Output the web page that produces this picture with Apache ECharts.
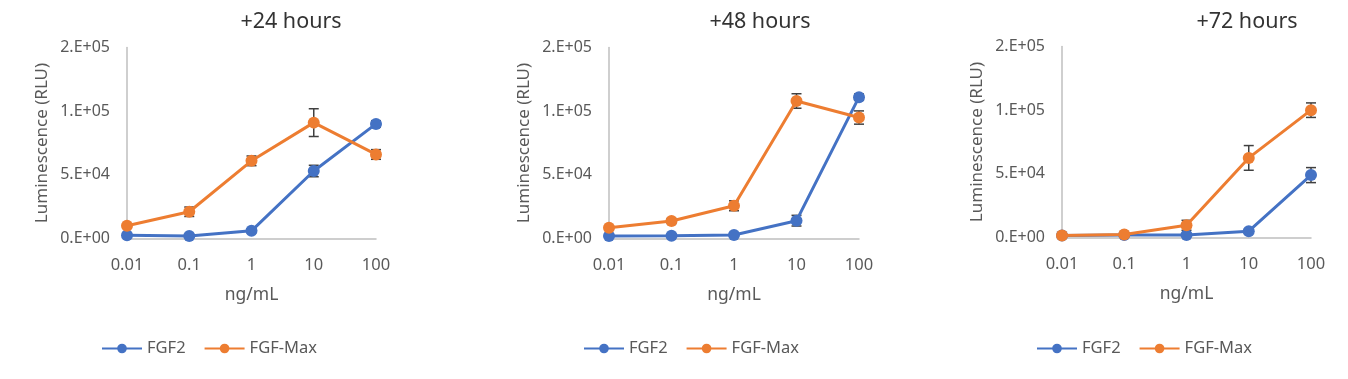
<!DOCTYPE html>
<html>
<head>
<meta charset="utf-8">
<script src="https://cdn.jsdelivr.net/npm/echarts@6/dist/echarts.min.js"></script>
<style>html,body{margin:0;padding:0;background:#fff;}#c{width:1348px;height:379px;}</style>
</head>
<body>
<div id="c"></div>
<script>
var categories = ['0.01', '0.1', '1', '10', '100'];
var panelTitles = ['+24 hours', '+48 hours', '+72 hours'];
var seriesNames = ['FGF2', 'FGF-Max'];
var yTicks = [0, 50000, 100000, 150000];

var fgf2_24 = [2500, 2000, 6000, 53000, 90000];
var fgf2_24_err = [1000, 1000, 1500, 4500, 2500];
var fgfmax_24 = [10000, 21000, 61000, 91000, 66000];
var fgfmax_24_err = [1500, 3700, 3800, 10900, 3800];

var fgf2_48 = [1900, 2100, 2700, 14000, 111000];
var fgf2_48_err = [500, 500, 800, 4200, 2500];
var fgfmax_48 = [8400, 13700, 25700, 108000, 95000];
var fgfmax_48_err = [1500, 2000, 3900, 5700, 5200];

var fgf2_72 = [1600, 2000, 2000, 5000, 49000];
var fgf2_72_err = [500, 500, 500, 1500, 5900];
var fgfmax_72 = [1600, 2400, 9600, 62500, 100000];
var fgfmax_72_err = [500, 800, 3900, 9700, 5700];

var FONT = '"Noto Sans", sans-serif';
var BLUE = '#4472C4', ORANGE = '#ED7D31';
var TXT = '#595959', AXIS = '#BFBFBF', ERR = '#404040';

function excelSci(v) {
  if (v === 0) return '0.E+00';
  var e = Math.floor(Math.log10(v));
  var m = Math.round(v / Math.pow(10, e));
  if (m >= 10) { m = 1; e++; }
  return m + '.E+' + (e < 10 ? '0' : '') + e;
}

var grids = [
  {left: 127, top: 47.5, width: 249, height: 191},
  {left: 609, top: 47.5, width: 250, height: 191},
  {left: 1062, top: 46.5, width: 249, height: 191}
];
var titleCenters = [286, 755, 1242];
var legendLefts = [96, 578, 1031];
var data = [
  [[fgf2_24, fgf2_24_err], [fgfmax_24, fgfmax_24_err]],
  [[fgf2_48, fgf2_48_err], [fgfmax_48, fgfmax_48_err]],
  [[fgf2_72, fgf2_72_err], [fgfmax_72, fgfmax_72_err]]
];

var option = {
  animation: false,
  textStyle: {fontFamily: FONT},
  title: [], grid: [], xAxis: [], yAxis: [], legend: [], series: []
};

function errRender(params, api) {
  var x = api.value(0), y = api.value(1), e = api.value(2);
  var top = api.coord([x, y + e]);
  var bot = api.coord([x, y - e]);
  var hw = 5;
  return {
    type: 'group',
    children: [
      {type: 'line', shape: {x1: top[0], y1: top[1], x2: bot[0], y2: bot[1]}, style: {stroke: ERR, lineWidth: 1.5}},
      {type: 'line', shape: {x1: top[0] - hw, y1: top[1], x2: top[0] + hw, y2: top[1]}, style: {stroke: ERR, lineWidth: 1.5}},
      {type: 'line', shape: {x1: bot[0] - hw, y1: bot[1], x2: bot[0] + hw, y2: bot[1]}, style: {stroke: ERR, lineWidth: 1.5}}
    ]
  };
}

for (var p = 0; p < 3; p++) {
  option.title.push({
    text: panelTitles[p], left: titleCenters[p], top: 6, textAlign: 'center',
    textStyle: {fontFamily: FONT, fontSize: 21.5, fontWeight: 'normal', color: '#333333'}
  });
  option.grid.push(grids[p]);
  option.xAxis.push({
    type: 'category', gridIndex: p, data: categories, boundaryGap: false,
    axisLine: {lineStyle: {color: AXIS, width: 1.5}}, axisTick: {show: false},
    axisLabel: {color: TXT, fontSize: 16.5, margin: 18, fontFamily: FONT},
    name: 'ng/mL', nameLocation: 'middle', nameGap: 48,
    nameTextStyle: {color: TXT, fontSize: 17.5, fontFamily: FONT}
  });
  option.yAxis.push({
    type: 'value', gridIndex: p, min: yTicks[0], max: yTicks[yTicks.length - 1], interval: yTicks[1] - yTicks[0],
    axisLine: {show: true, lineStyle: {color: AXIS, width: 1.5}}, axisTick: {show: false},
    splitLine: {show: false},
    axisLabel: {color: TXT, fontSize: 16, margin: 17, fontFamily: FONT, formatter: excelSci},
    name: 'Luminescence (RLU)', nameLocation: 'middle', nameGap: 76, nameRotate: 90,
    nameTextStyle: {color: TXT, fontSize: 17, fontFamily: FONT}
  });
  option.legend.push({
    data: seriesNames, left: legendLefts[p], top: 335, itemWidth: 40, itemHeight: 12, itemGap: 18,
    textStyle: {color: TXT, fontSize: 16.5, fontFamily: FONT}
  });
  for (var s = 0; s < 2; s++) {
    var vals = data[p][s][0], errs = data[p][s][1];
    var color = s === 0 ? BLUE : ORANGE;
    var errData = vals.map(function (v, i) { return [i, v, errs[i]]; });
    option.series.push({
      type: 'custom', xAxisIndex: p, yAxisIndex: p, renderItem: errRender,
      data: errData, z: 1, silent: true, encode: {x: 0, y: 1}
    });
    option.series.push({
      name: seriesNames[s], type: 'line', xAxisIndex: p, yAxisIndex: p, data: vals,
      symbol: 'circle', symbolSize: 12, z: 3 + s,
      lineStyle: {color: color, width: 3}, itemStyle: {color: color}
    });
  }
}

var chart = echarts.init(document.getElementById('c'), null, {renderer: 'canvas'});
chart.setOption(option);
</script>
</body>
</html>
